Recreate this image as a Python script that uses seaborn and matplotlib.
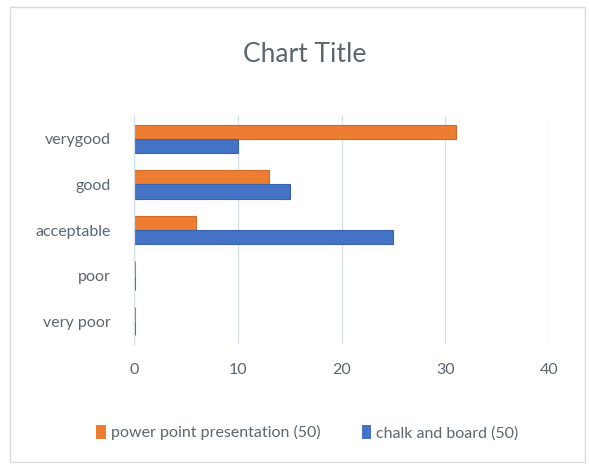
import matplotlib
matplotlib.use("Agg")
import matplotlib.pyplot as plt
from matplotlib.patches import Patch, Rectangle
import seaborn as sns
import pandas as pd

categories = ["verygood", "good", "acceptable", "poor", "very poor"]
series_names = ["power point presentation (50)", "chalk and board (50)"]
power_point = [31, 13, 6, 0, 0]
chalk_board = [10, 15, 25, 0, 0]
x_ticks = [0, 10, 20, 30, 40]

colors = ["#ED7D31", "#4472C4"]
edge_colors = ["#D0692A", "#3A63AE"]
text_color = "#5B6670"

sns.set_theme(style="white")
plt.rcParams["font.family"] = ["Lato", "DejaVu Sans"]

df = pd.DataFrame({
    "category": categories * 2,
    "series": [series_names[0]] * len(categories) + [series_names[1]] * len(categories),
    "value": power_point + chalk_board,
})

fig = plt.figure(figsize=(5.89, 4.69), dpi=100)
ax = fig.add_axes([0.2275, 0.2665, 0.7046, 0.4861])

sns.barplot(data=df, y="category", x="value", hue="series", order=categories,
            hue_order=series_names, palette=colors, orient="h", width=0.62,
            ax=ax, legend=False, saturation=1)

# thin outlines on each series; empty bars still show as a short stub
for container, ec in zip(ax.containers, edge_colors):
    for bar in container:
        bar.set_edgecolor(ec)
        bar.set_linewidth(2.2 if bar.get_width() == 0 else 0.8)

ax.set_xlim(0, 40)
ax.set_xticks(x_ticks)
ax.set_xticklabels([str(t) for t in x_ticks])
ax.set_xlabel("")
ax.set_ylabel("")
ax.grid(axis="x", color="#D6DEE8", linewidth=0.9)
ax.grid(axis="y", visible=False)
ax.set_axisbelow(True)
for side in ["top", "right", "bottom"]:
    ax.spines[side].set_visible(False)
ax.spines["left"].set_color("#D6DEE8")
ax.spines["left"].set_linewidth(0.9)
ax.tick_params(axis="y", length=0, pad=17, labelsize=11.5, labelcolor=text_color)
ax.tick_params(axis="x", length=0, pad=14, labelsize=11.5, labelcolor=text_color)

fig.text(0.518, 0.884, "Chart Title", ha="center", va="center",
         fontsize=19, color=text_color)

handles = [Patch(facecolor=c, edgecolor="none") for c in colors]
fig.legend(handles, series_names, loc="center", bbox_to_anchor=(0.522, 0.077),
           ncol=2, frameon=False, fontsize=11.5, labelcolor=text_color,
           handlelength=0.6, handleheight=0.9, handletextpad=0.3, columnspacing=2.6)

fig.patches.append(Rectangle((10 / 589, 7 / 469), 575 / 589, 455 / 469,
                             transform=fig.transFigure, fill=False,
                             edgecolor="#DADADA", linewidth=1.0))

fig.savefig("out.png", dpi=100)
